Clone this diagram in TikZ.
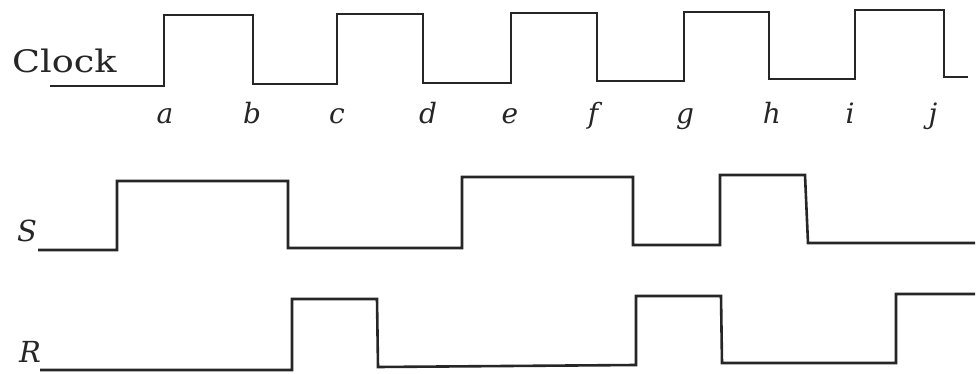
\documentclass[tikz,border=0pt]{standalone}
\usepackage{fontspec}
\usepackage{graphicx}
\setmainfont{DejaVu Serif}
\begin{document}
\begin{tikzpicture}[x=1pt,y=-1pt,
  wave/.style={draw=black!85, line width=2.6pt, line join=miter},
  lbl/.style={inner sep=0pt, anchor=base west, text=black!85},
  tick/.style={inner sep=0pt, anchor=base, text=black!85, font=\fontsize{28}{30}\selectfont\itshape}]
\useasboundingbox (0,0) rectangle (980,374);
% labels
\node[lbl, font=\fontsize{31}{34}\selectfont] (clk) at (12,73) {\scalebox{1.18}[1]{Clock}};
\node[lbl, font=\fontsize{29}{32}\selectfont\itshape] (s) at (17,241) {S};
\node[lbl, font=\fontsize{29}{32}\selectfont\itshape] (r) at (19,362) {R};
\node[tick] (la) at (165,124) {a};
\node[tick] (lb) at (252,124) {b};
\node[tick] (lc) at (337,124) {c};
\node[tick] (ld) at (428,124) {d};
\node[tick] (le) at (510,124) {e};
\node[tick] (lf) at (593,124) {f};
\node[tick] (lg) at (685,124) {g};
\node[tick] (lh) at (772,124) {h};
\node[tick] (li) at (850,124) {i};
\node[tick] (lj) at (933,124) {j};
% Clock waveform
\draw[wave] (50,86) -- (164,86) -- (164,15) -- (253,15) -- (253,84) -- (337,84) -- (337,14) -- (423,14) -- (423,83) -- (511,83) -- (511,13) -- (597,13) -- (597,81) -- (684,81) -- (684,12) -- (769,12) -- (769,79) -- (855,79) -- (855,10) -- (944,10) -- (944,77) -- (968,77);
% S waveform
\draw[wave] (38,250) -- (117,250) -- (117,181) -- (288,181) -- (288,248) -- (462,248) -- (462,177) -- (633,177) -- (633,245) -- (720,245) -- (720,175) -- (805,175) -- (808,243) -- (975,243);
% R waveform
\draw[wave] (40,370) -- (292,370) -- (292,299) -- (377,299) -- (378,367) -- (636,365) -- (636,296) -- (721,296) -- (722,363) -- (896,363) -- (896,294) -- (975,294);
\end{tikzpicture}
\end{document}
